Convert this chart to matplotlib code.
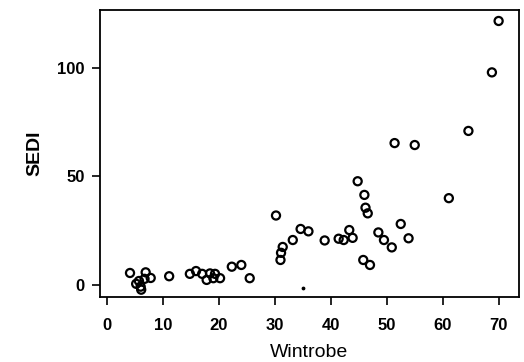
import matplotlib
matplotlib.use("Agg")
import matplotlib.pyplot as plt

# Wintrobe vs SEDI values
wintrobe = [4.1, 5.2, 5.7, 6.0, 6.1, 6.7, 6.9, 7.8, 11.1, 14.8, 15.9, 17.0,
            18.4, 19.3, 17.8, 19.0, 20.2, 22.3, 24.0, 25.5, 30.2, 31.1, 31.0,
            31.4, 33.2, 34.6, 36.0, 38.9, 41.4, 42.3, 43.9, 43.3, 44.8, 46.0,
            46.2, 46.6, 45.8, 47.0, 48.5, 49.5, 50.9, 51.4, 52.5, 53.9, 55.0,
            61.1, 64.6, 68.8, 70.0]
sedi = [5.5, 0.5, 1.8, -0.8, -2.2, 2.8, 5.8, 3.2, 4.0, 5.1, 6.4, 5.1,
        5.3, 5.1, 2.3, 3.1, 3.1, 8.4, 9.2, 3.1, 32.0, 14.8, 11.5,
        17.5, 20.7, 25.8, 24.7, 20.5, 21.3, 20.7, 21.7, 25.3, 47.8, 41.5,
        35.6, 33.0, 11.5, 9.2, 24.2, 20.7, 17.3, 65.4, 28.1, 21.5, 64.5,
        40.0, 71.0, 98.0, 121.7]

# stray tiny mark near the axis
dot_x = [35.0]
dot_y = [-1.5]

plt.rcParams["font.family"] = ["Liberation Sans", "DejaVu Sans"]

fig = plt.figure(figsize=(5.24, 3.62), dpi=100)
ax = fig.add_axes([0.191, 0.18, 0.799, 0.792])

ax.scatter(wintrobe, sedi, s=34, facecolors="none", edgecolors="black",
           linewidths=1.6)
ax.scatter(dot_x, dot_y, s=3, color="black")

ax.set_xlim(-1.25, 73.6)
ax.set_ylim(-5.5, 126.7)
ax.set_xticks(range(0, 71, 10))
ax.set_yticks([0, 50, 100])
ax.tick_params(direction="out", length=6, width=1.2, labelsize=12, pad=5)
ax.tick_params(axis="x", pad=9)
for lab in ax.get_xticklabels() + ax.get_yticklabels():
    lab.set_fontweight("bold")
for s in ax.spines.values():
    s.set_linewidth(1.3)

ax.set_xlabel("Wintrobe", fontsize=14, labelpad=8)
ax.set_ylabel("SEDI", fontsize=14, fontweight="bold", labelpad=10)

plt.savefig("out.png", dpi=100)
